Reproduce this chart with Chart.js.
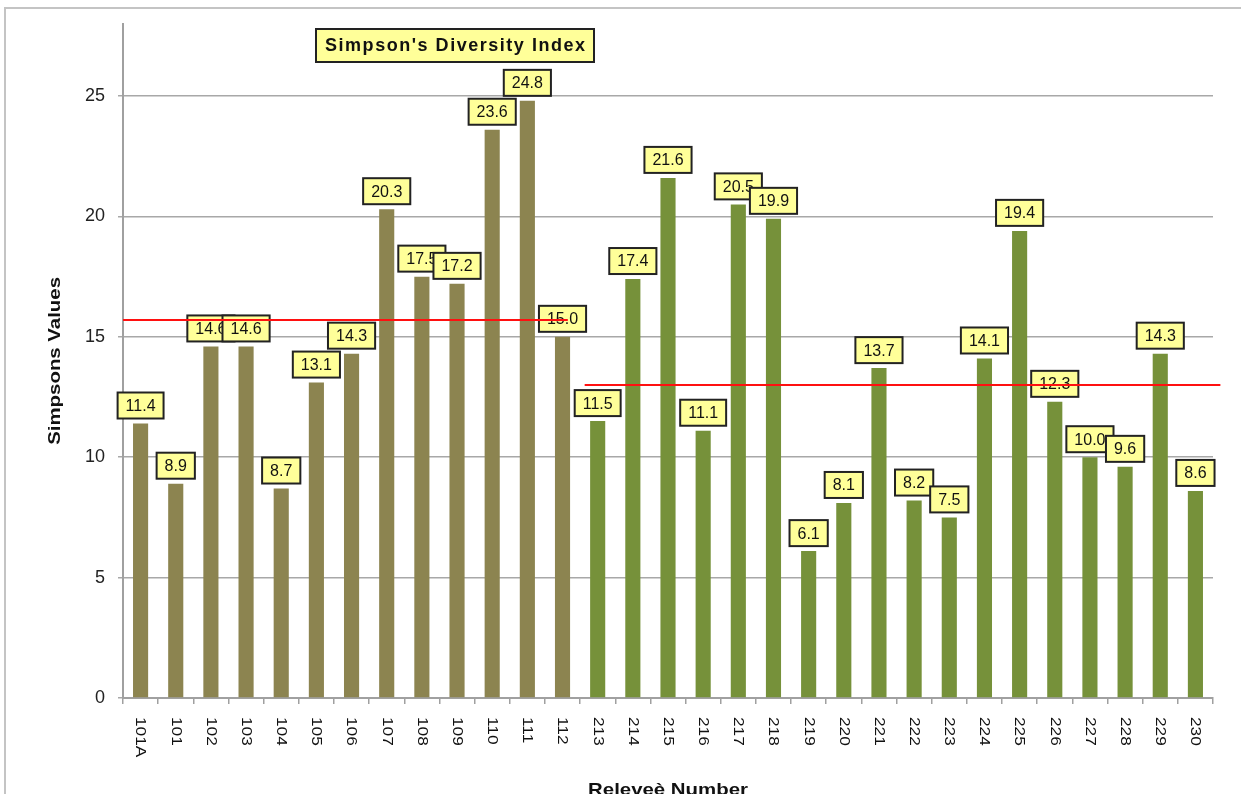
<!DOCTYPE html>
<html><head><meta charset="utf-8">
<script src="https://cdn.jsdelivr.net/npm/chart.js@4.4.0/dist/chart.umd.min.js"></script>
<style>html,body{margin:0;padding:0;background:#fff;}#wrap{position:relative;width:1241px;height:794px;}</style>
</head><body><div id="wrap"><canvas id="c"></canvas></div>
<script>
// ---- data ----
const sites = ['101A','101','102','103','104','105','106','107','108','109','110','111','112',
  '213','214','215','216','217','218','219','220','221','222','223','224','225','226','227','228','229','230'];
const simpson = [11.4,8.9,14.6,14.6,8.7,13.1,14.3,20.3,17.5,17.2,23.6,24.8,15.0,
  11.5,17.4,21.6,11.1,20.5,19.9,6.1,8.1,13.7,8.2,7.5,14.1,19.4,12.3,10.0,9.6,14.3,8.6];
const yTicks = [0,5,10,15,20,25];
const meanValues = [15.7, 13.0];
const meanFrom = ['101A','213'];
const meanTo = ['112','230'];
const chartTitle = "Simpson's Diversity Index";
const xTitle = "Releveè Number";
const yTitle = "Simpsons Values";

// ---- style ----
const BROWN = '#8c8450', GREEN = '#76913a';
const lastOfFirst = sites.indexOf(meanTo[0]);
const meanStartOff = [-0.5, -0.37];
const meanEndOff = [0.15, 0.71];

function stretchText(ctx, text, x, y, rot, sx, align, baseline){
  ctx.save();
  ctx.translate(x, y);
  ctx.rotate(rot);
  ctx.scale(sx, 1);
  ctx.textAlign = align; ctx.textBaseline = baseline;
  ctx.fillText(text, 0, 0);
  ctx.restore();
}

const decor = {
  id: 'decor',
  beforeDraw(chart){
    const ctx = chart.ctx;
    ctx.save();
    ctx.fillStyle = '#fff';
    ctx.fillRect(0,0,chart.width,chart.height);
    ctx.strokeStyle = '#c4c4c4'; ctx.lineWidth = 2;
    ctx.strokeRect(5, 8, chart.width + 10, chart.height + 10);
    ctx.restore();
  },
  afterDatasetsDraw(chart){
    const ctx = chart.ctx;
    const meta = chart.getDatasetMeta(0);
    const xs = chart.scales.x, ys = chart.scales.y;
    ctx.save();
    ctx.font = '16px "Liberation Sans", Arial, sans-serif';
    meta.data.forEach((bar, i) => {
      const txt = simpson[i].toFixed(1);
      const tw = ctx.measureText(txt).width;
      const w = tw + 16, h = 26;
      const x0 = bar.x - w/2, y0 = bar.y - 5 - h;
      ctx.fillStyle = '#ffff99';
      ctx.fillRect(x0, y0, w, h);
      ctx.strokeStyle = '#222'; ctx.lineWidth = 2;
      ctx.strokeRect(x0, y0, w, h);
      ctx.fillStyle = '#111';
      ctx.textAlign = 'center'; ctx.textBaseline = 'middle';
      ctx.fillText(txt, bar.x, y0 + h/2 + 1);
    });
    // mean lines
    const cw = xs.getPixelForValue(1) - xs.getPixelForValue(0);
    ctx.strokeStyle = '#ff1010'; ctx.lineWidth = 2;
    meanValues.forEach((v, k) => {
      const a = xs.getPixelForValue(sites.indexOf(meanFrom[k])) + meanStartOff[k]*cw;
      const b = xs.getPixelForValue(sites.indexOf(meanTo[k])) + meanEndOff[k]*cw;
      const y = ys.getPixelForValue(v);
      ctx.beginPath(); ctx.moveTo(a, y); ctx.lineTo(b, y); ctx.stroke();
    });
    ctx.restore();
  },
  afterDraw(chart){
    const ctx = chart.ctx;
    const xs = chart.scales.x, ca = chart.chartArea;
    ctx.save();
    // x tick labels rotated (reading downward)
    ctx.fillStyle = '#111';
    ctx.font = '15px "Liberation Sans", Arial, sans-serif';
    sites.forEach((s, i) => {
      stretchText(ctx, s, xs.getPixelForValue(i), ca.bottom + 19, Math.PI/2, 1.15, 'left', 'middle');
    });
    // axis titles
    ctx.fillStyle = '#111';
    ctx.font = 'bold 17px "Liberation Sans", Arial, sans-serif';
    stretchText(ctx, xTitle, (ca.left + ca.right)/2, 795, 0, 1.2, 'center', 'alphabetic');
    stretchText(ctx, yTitle, 55, (ca.top + ca.bottom)/2, -Math.PI/2, 1.2, 'center', 'middle');
    // chart title box
    const bx = 316, by = 29, bw = 278, bh = 33;
    ctx.fillStyle = '#ffff99'; ctx.fillRect(bx, by, bw, bh);
    ctx.strokeStyle = '#222'; ctx.lineWidth = 2; ctx.strokeRect(bx, by, bw, bh);
    ctx.fillStyle = '#111';
    ctx.font = 'bold 18px "Liberation Sans", Arial, sans-serif';
    const tw = ctx.measureText(chartTitle).width;
    const sp = (260 - tw) / (chartTitle.length - 1);
    ctx.letterSpacing = sp.toFixed(2) + 'px';
    ctx.textAlign = 'left'; ctx.textBaseline = 'middle';
    ctx.fillText(chartTitle, bx + (bw - 260)/2, by + bh/2 + 1);
    ctx.letterSpacing = '0px';
    ctx.restore();
  }
};

new Chart(document.getElementById('c'), {
  type: 'bar',
  data: {
    labels: sites,
    datasets: [{
      data: simpson,
      backgroundColor: sites.map((s, i) => i <= lastOfFirst ? BROWN : GREEN),
      borderWidth: 0,
      barPercentage: 0.43,
      categoryPercentage: 1.0
    }]
  },
  options: {
    responsive: true, maintainAspectRatio: false, animation: false,
    devicePixelRatio: 1,
    layout: { padding: { left: 0, top: 23, right: 28, bottom: 0 } },
    plugins: { legend: { display: false }, tooltip: { enabled: false }, title: { display: false } },
    scales: {
      x: {
        ticks: { display: false },
        grid: { drawOnChartArea: false, drawTicks: true, tickLength: 6, color: '#a0a0a0', lineWidth: 1.5, offset: true },
        border: { color: '#a0a0a0', width: 2 },
        afterFit(scale){ scale.height = 96; }
      },
      y: {
        min: 0, max: 28,
        ticks: { stepSize: 5, color: '#222', font: { family: '"Liberation Sans", Arial, sans-serif', size: 18 }, padding: 13 },
        afterBuildTicks(scale){ scale.ticks = yTicks.map(v => ({ value: v })); },
        grid: { color: '#a8a8a8', lineWidth: 1.5, tickLength: 5, drawTicks: true },
        border: { color: '#a0a0a0', width: 2 },
        afterFit(scale){ scale.width = 123; }
      }
    }
  },
  plugins: [decor]
});
</script>
</body></html>
